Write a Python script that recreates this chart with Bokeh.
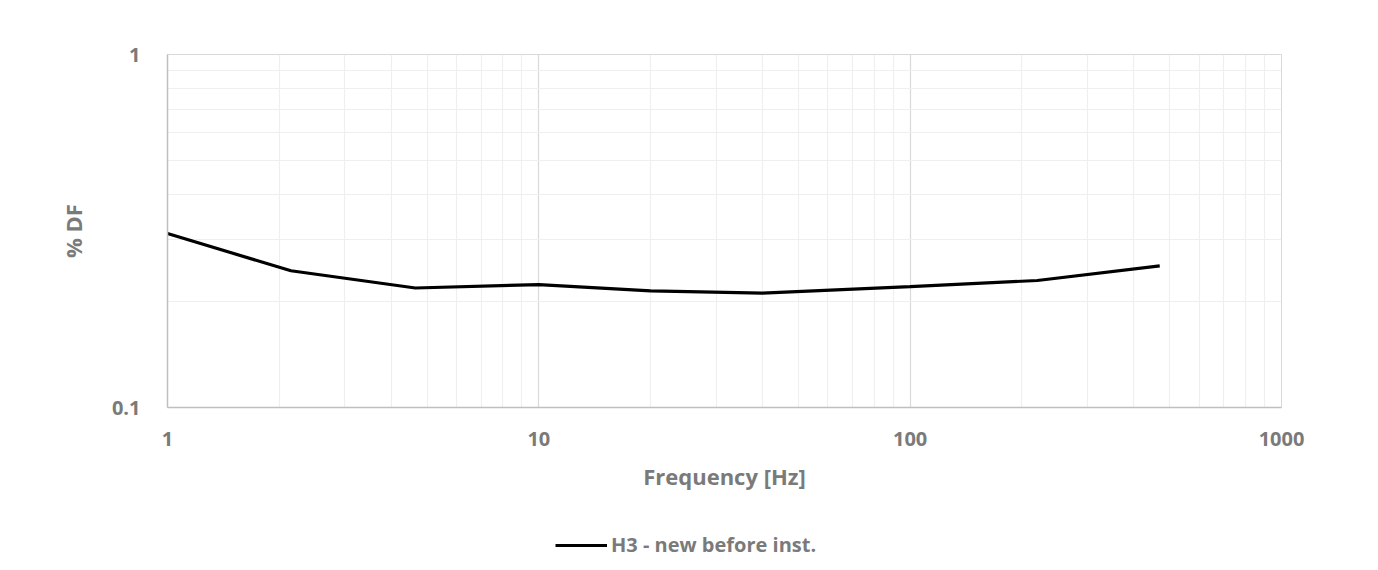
from bokeh.plotting import figure
from bokeh.models import FixedTicker, CustomJSTickFormatter, Legend, LegendItem, Range1d
from bokeh.layouts import column
from bokeh.embed import file_html
from bokeh.resources import INLINE

# Data
freq_hz = [1, 2.15, 4.65, 10, 20, 40, 100, 220, 470]
df_pct = [0.311, 0.244, 0.218, 0.223, 0.214, 0.211, 0.220, 0.229, 0.252]
series_name = "H3 - new before inst."
x_major = [1, 10, 100, 1000]
y_major = [0.1, 1]

x_minor = [m * d for d in (1, 10, 100) for m in range(2, 10)]
y_minor = [m * 0.1 for m in range(2, 10)]

TXT = "#7a7a7a"
FONT = "Open Sans"

p = figure(width=1378, height=520, x_axis_type="log", y_axis_type="log",
           x_range=(1, 1000), y_range=(0.1, 1),
           frame_width=1114, frame_height=353,
           output_backend="svg", toolbar_location=None,
           min_border_left=167, min_border_right=97,
           min_border_top=54, min_border_bottom=113)
p.background_fill_color = "white"
p.border_fill_color = "white"
p.outline_line_color = "#d9d9d9"
p.outline_line_width = 1

p.xaxis.ticker = FixedTicker(ticks=x_major, minor_ticks=x_minor)
p.yaxis.ticker = FixedTicker(ticks=y_major, minor_ticks=y_minor)
p.xaxis.formatter = CustomJSTickFormatter(code="return tick.toString();")
p.yaxis.formatter = CustomJSTickFormatter(code="return tick.toString();")

for ax in (p.xaxis[0], p.yaxis[0]):
    ax.major_tick_line_color = None
    ax.minor_tick_line_color = None
    ax.axis_line_color = "#bfbfbf"
    ax.axis_line_width = 1.5
    ax.major_label_text_color = TXT
    ax.major_label_text_font = FONT
    ax.major_label_text_font_style = "bold"
    ax.major_label_text_font_size = "20px"
    ax.axis_label_text_color = TXT
    ax.axis_label_text_font = FONT
    ax.axis_label_text_font_style = "bold"
    ax.axis_label_text_font_size = "22px"

p.xaxis.major_label_standoff = 18
p.yaxis.major_label_standoff = 21
p.xaxis.axis_label = "Frequency [Hz]"
p.yaxis.axis_label = "% DF"
p.xaxis.axis_label_standoff = 12
p.yaxis.axis_label_standoff = 21

p.xgrid.ticker = FixedTicker(ticks=[10, 100], minor_ticks=x_minor)
p.ygrid.ticker = FixedTicker(ticks=[], minor_ticks=y_minor)
p.xgrid.grid_line_color = "#d9d9d9"
p.xgrid.grid_line_width = 1.2
p.xgrid.minor_grid_line_color = "#efefef"
p.xgrid.minor_grid_line_width = 1.2
p.ygrid.minor_grid_line_color = "#efefef"
p.ygrid.minor_grid_line_width = 1.2

p.line(freq_hz, df_pct, line_color="black", line_width=3.2)

# legend strip below the chart
leg = figure(width=1378, height=50, x_range=Range1d(-10, -5), y_range=Range1d(0, 1),
             output_backend="svg", toolbar_location=None,
             min_border_left=0, min_border_right=0,
             min_border_top=0, min_border_bottom=0)
leg.axis.visible = False
leg.grid.visible = False
leg.outline_line_color = None
leg.background_fill_color = "white"
leg.border_fill_color = "white"
r2 = leg.line(freq_hz, df_pct, line_color="black", line_width=3.2)

legend = Legend(items=[LegendItem(label=series_name, renderers=[r2])],
                location=(388, 12), orientation="horizontal",
                background_fill_alpha=0, border_line_color=None,
                label_text_color=TXT, label_text_font=FONT,
                label_text_font_style="bold", label_text_font_size="20px",
                glyph_width=52, label_standoff=4, padding=0, margin=0)
leg.add_layout(legend, "center")

open("out.html", "w").write(file_html(column(p, leg), INLINE))
